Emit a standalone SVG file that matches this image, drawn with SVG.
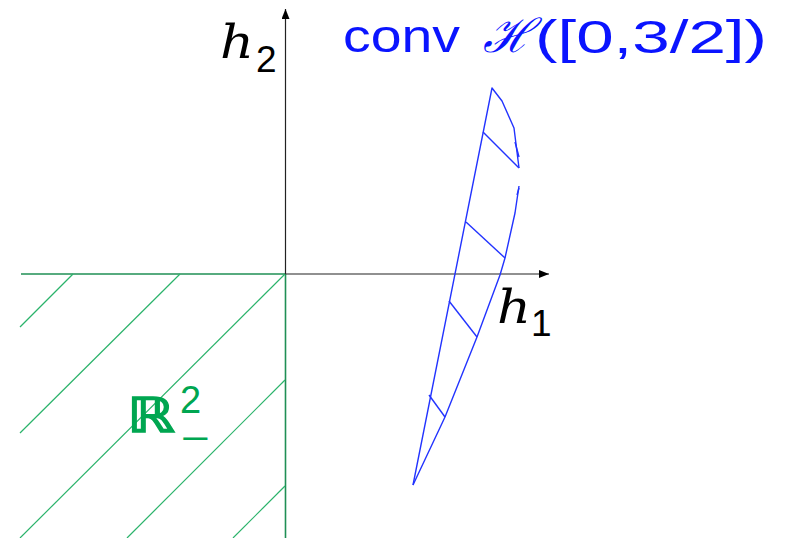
<svg xmlns="http://www.w3.org/2000/svg" width="793" height="538" viewBox="0 0 793 538">
<style>
.hatch{stroke:#2bb36b;stroke-width:1.2;fill:none}
.green{stroke:#1f8f55;stroke-width:1.6;fill:none}
.axis{stroke:#222;stroke-width:1.2;fill:none}
.blue{stroke:#2233ff;stroke-width:1.4;fill:none;stroke-linejoin:round}
.lbl{font-family:"DejaVu Serif",serif;font-style:italic;fill:#000;font-size:46px}
.sub{font-family:"Liberation Sans",sans-serif;fill:#000;font-size:37px}
.ttl{font-family:"Liberation Sans",sans-serif;font-size:47px;fill:#0a14ff}
</style>
<defs>
<marker id="arr" viewBox="0 0 10 8" refX="10" refY="4" markerWidth="10" markerHeight="8" markerUnits="userSpaceOnUse" orient="auto">
<path d="M0,0 L10,4 L0,8 z" fill="#000"/>
</marker>
</defs>
<g id="region-neg">
<line class="green" x1="21" y1="274" x2="285.5" y2="274"/>
<line class="green" x1="285.5" y1="274" x2="285.5" y2="538"/>
<line class="hatch" x1="73" y1="274" x2="20" y2="327"/>
<line class="hatch" x1="180" y1="274" x2="20" y2="433"/>
<line class="hatch" x1="285" y1="274" x2="20" y2="538"/>
<line class="hatch" x1="285" y1="380" x2="127" y2="538"/>
<line class="hatch" x1="285" y1="486" x2="233" y2="538"/>
<text x="127" y="432" font-family="DejaVu Sans, sans-serif" font-size="48" fill="#00a651" stroke="#00a651" stroke-width="1.6" textLength="48" lengthAdjust="spacingAndGlyphs">ℝ</text>
<text x="180" y="413" font-family="Liberation Sans, sans-serif" font-size="38" fill="#00a651">2</text>
<text x="181" y="450" font-family="Liberation Sans, sans-serif" font-size="34" fill="#00a651" textLength="29" lengthAdjust="spacingAndGlyphs">−</text>
</g>
<g id="axes">
<line class="axis" x1="285.5" y1="274" x2="549" y2="274" stroke="#555" marker-end="url(#arr)"/>
<line class="axis" x1="285.5" y1="274" x2="285.5" y2="9" marker-end="url(#arr)"/>
<text class="lbl" x="220" y="58" textLength="34" lengthAdjust="spacingAndGlyphs">h</text>
<text class="sub" x="256" y="72">2</text>
<text class="lbl" x="497" y="323" textLength="34" lengthAdjust="spacingAndGlyphs">h</text>
<text class="sub" x="531" y="336">1</text>
</g>
<g id="hull">
<path class="blue" d="M413,485 L492,88 L502,101 L514,128 L519,168"/>
<path class="blue" d="M515,142 L519,157"/>
<path class="blue" d="M517,195 L519,188"/>
<path class="blue" d="M519,186 L515,213 L505,258 L500,275 L477,337 L445,417 L413,485"/>
<line class="blue" x1="483" y1="132" x2="519" y2="168"/>
<line class="blue" x1="466" y1="222" x2="505" y2="258"/>
<line class="blue" x1="449" y1="301" x2="477" y2="337"/>
<line class="blue" x1="429" y1="395" x2="445" y2="417"/>
<text class="ttl" x="343" y="52" textLength="117" lengthAdjust="spacingAndGlyphs">conv</text>
<text class="ttl" x="483" y="52" font-family="DejaVu Serif, serif" font-style="italic" font-size="48" textLength="50" lengthAdjust="spacingAndGlyphs">ℋ</text>
<text class="ttl" x="535" y="53" textLength="232" lengthAdjust="spacingAndGlyphs">([0,3/2])</text>
</g>
</svg>
